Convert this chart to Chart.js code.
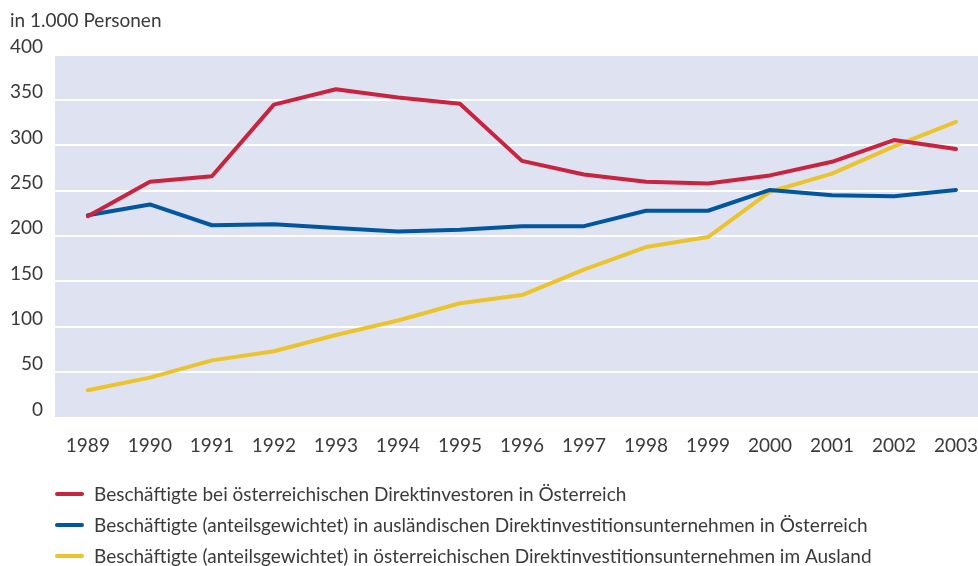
<!DOCTYPE html>
<html>
<head>
<meta charset="utf-8">
<script src="https://cdn.jsdelivr.net/npm/chart.js@4"></script>
<style>
  html, body { margin: 0; padding: 0; background: #fff; }
  #wrap { width: 978px; height: 566px; }
</style>
</head>
<body>
<div id="wrap"><canvas id="chart"></canvas></div>
<script>
const years = [1989, 1990, 1991, 1992, 1993, 1994, 1995, 1996, 1997, 1998, 1999, 2000, 2001, 2002, 2003];
const investorenInAT = [222, 260, 266, 345, 362, 353, 346, 283, 268, 260, 258, 267, 282, 306, 296];
const auslUnternehmenInAT = [223, 235, 212, 213, 209, 205, 207, 211, 211, 228, 228, 251, 245, 244, 251];
const oestUnternehmenImAusland = [30, 44, 63, 73, 91, 107, 126, 135, 163, 188, 199, 249, 269, 299, 326];
const seriesLabels = [
  'Beschäftigte bei österreichischen Direktinvestoren in Österreich',
  'Beschäftigte (anteilsgewichtet) in ausländischen Direktinvestitionsunternehmen in Österreich',
  'Beschäftigte (anteilsgewichtet) in österreichischen Direktinvestitionsunternehmen im Ausland'
];
const yTicks = [0, 50, 100, 150, 200, 250, 300, 350, 400];

const colors = ['#c8233f', '#0057a0', '#ebc42d'];
const textColor = '#3a3a3a';
const fontFamily = 'Lato, "Open Sans", sans-serif';

const toPoints = arr => years.map((y, i) => ({ x: y, y: arr[i] }));

// lavender plot background
const plotBg = {
  id: 'plotBg',
  beforeDraw(chart) {
    const { ctx, chartArea: a } = chart;
    ctx.save();
    ctx.fillStyle = '#dfe2f0';
    ctx.fillRect(a.left, a.top, a.right - a.left, a.bottom - a.top);
    ctx.restore();
  }
};

// legend below the chart, one line per series
const lineLegend = {
  id: 'lineLegend',
  afterDraw(chart) {
    const ctx = chart.ctx;
    const left = chart.chartArea.left;
    ctx.save();
    ctx.font = '19px ' + fontFamily;
    ctx.textBaseline = 'middle';
    ctx.fillStyle = textColor;
    chart.data.datasets.forEach((ds, i) => {
      const y = 494 + i * 31;
      ctx.strokeStyle = ds.borderColor;
      ctx.lineWidth = 4;
      ctx.lineCap = 'round';
      ctx.beginPath();
      ctx.moveTo(left + 2, y);
      ctx.lineTo(left + 27, y);
      ctx.stroke();
      ctx.fillText(ds.label, left + 39, y + 1);
    });
    ctx.restore();
  }
};

const datasets = [investorenInAT, auslUnternehmenInAT, oestUnternehmenImAusland].map((arr, i) => ({
  label: seriesLabels[i],
  data: toPoints(arr),
  borderColor: colors[i],
  backgroundColor: colors[i],
  borderWidth: 4,
  pointRadius: 0,
  tension: 0,
  borderCapStyle: 'round',
  borderJoinStyle: 'round'
}));

new Chart(document.getElementById('chart'), {
  type: 'line',
  data: { datasets },
  options: {
    responsive: true,
    maintainAspectRatio: false,
    animation: false,
    layout: { padding: { left: 10, right: 0, top: 0, bottom: 108.5 } },
    plugins: {
      legend: { display: false },
      tooltip: { enabled: false },
      title: {
        display: true,
        text: 'in 1.000 Personen',
        align: 'start',
        color: textColor,
        font: { family: fontFamily, size: 19, weight: 'normal' },
        padding: { top: 9, bottom: 23 }
      }
    },
    scales: {
      x: {
        type: 'linear',
        min: 1988.47,
        max: 2003.355,
        afterBuildTicks: axis => { axis.ticks = years.map(v => ({ value: v })); },
        afterFit: axis => {
          axis.height = 40;
          axis.paddingLeft = 0;
          axis.paddingRight = 0;
        },
        grid: { display: false },
        border: { display: false },
        ticks: {
          color: textColor,
          font: { family: fontFamily, size: 19 },
          padding: 9,
          maxRotation: 0,
          autoSkip: false,
          callback: v => String(v)
        }
      },
      y: {
        min: 0,
        max: 400,
        afterBuildTicks: axis => { axis.ticks = yTicks.map(v => ({ value: v })); },
        afterFit: axis => { axis.width = 45; },
        grid: { color: '#ffffff', lineWidth: 2, drawTicks: false },
        border: { display: false },
        ticks: {
          color: textColor,
          font: { family: fontFamily, size: 19 },
          padding: 12,
          labelOffset: -8
        }
      }
    }
  },
  plugins: [plotBg, lineLegend]
});
</script>
</body>
</html>
